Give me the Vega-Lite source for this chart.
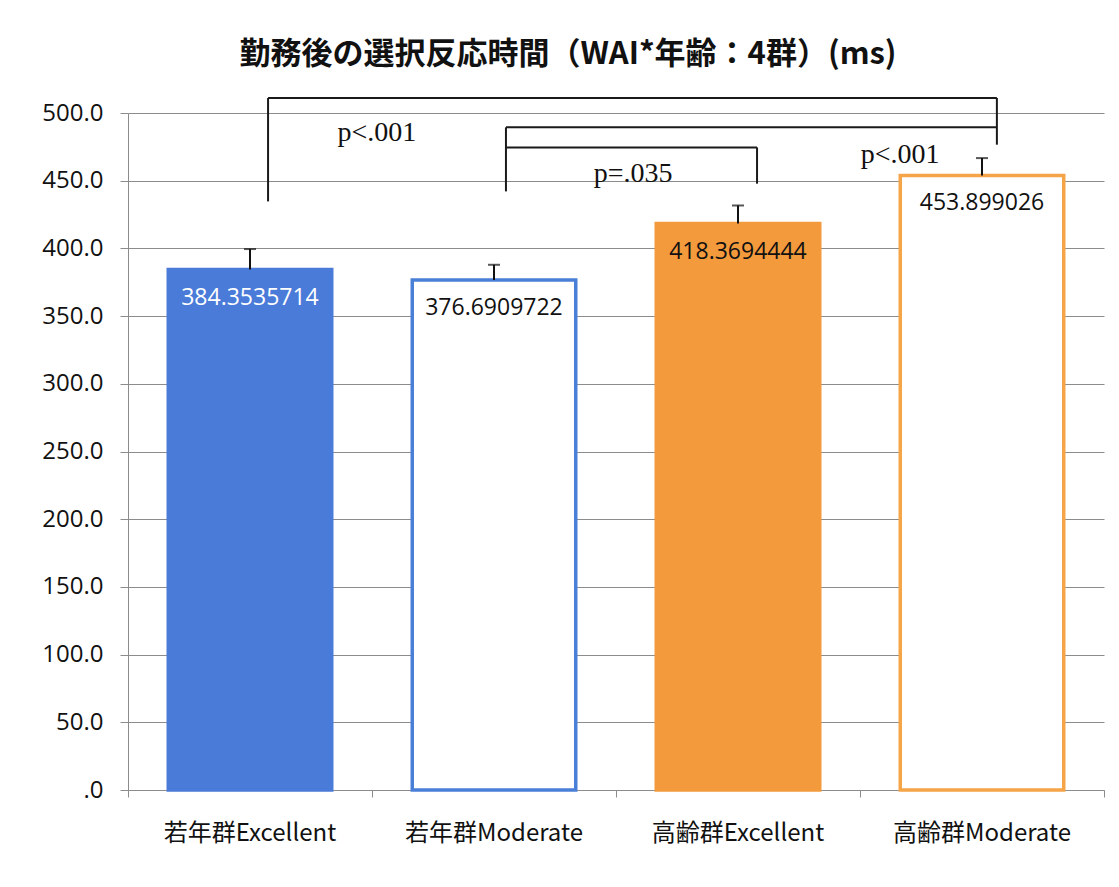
{
  "$schema": "https://vega.github.io/schema/vega-lite/v6.json",
  "width": 976,
  "height": 677,
  "autosize": {"type": "none"},
  "padding": {"left": 128, "top": 113, "right": 15, "bottom": 97},
  "background": "white",
  "config": {"view": {"stroke": null}},
  "title": {
    "text": "勤務後の選択反応時間（WAI*年齢：4群）(ms)",
    "font": "Noto Sans CJK JP",
    "fontSize": 31,
    "fontWeight": "bold",
    "color": "#111111",
    "offset": 26,
    "dx": -48,
    "anchor": "middle"
  },
  "datasets": {
    "bars": [
      {"grp": "若年群Excellent", "mean": 384.3535714, "err_hi": 399.5},
      {"grp": "若年群Moderate", "mean": 376.6909722, "err_hi": 387.9},
      {"grp": "高齢群Excellent", "mean": 418.3694444, "err_hi": 431.7},
      {"grp": "高齢群Moderate", "mean": 453.899026, "err_hi": 466.7}
    ],
    "brackets": [
      {"x1": 0.574, "x2": 3.561, "y1": 511.1, "y2": 511.1},
      {"x1": 0.574, "x2": 0.574, "y1": 434.7, "y2": 511.1},
      {"x1": 3.561, "x2": 3.561, "y1": 476.6, "y2": 511.1},
      {"x1": 1.549, "x2": 3.561, "y1": 489.4, "y2": 489.4},
      {"x1": 1.549, "x2": 1.549, "y1": 442.1, "y2": 489.4},
      {"x1": 1.549, "x2": 2.578, "y1": 474.6, "y2": 474.6},
      {"x1": 2.578, "x2": 2.578, "y1": 447.8, "y2": 474.6}
    ],
    "pvals": [
      {"x": 1.02, "y": 485.4, "label": "p<.001"},
      {"x": 2.07, "y": 455.1, "label": "p=.035"},
      {"x": 3.164, "y": 469.1, "label": "p<.001"}
    ]
  },
  "layer": [
    {
      "data": {"name": "bars"},
      "encoding": {
        "x": {
          "field": "grp",
          "type": "nominal",
          "sort": null,
          "scale": {"paddingInner": 0.33, "paddingOuter": 0.165},
          "axis": {
            "orient": "bottom",
            "title": null,
            "ticks": false,
            "domain": false,
            "labelAngle": 0,
            "labelFont": "Noto Sans CJK JP",
            "labelFontSize": 24,
            "labelColor": "#111111",
            "labelPadding": 31,
            "labelLimit": 400
          }
        },
        "y": {
          "field": "mean",
          "type": "quantitative",
          "scale": {"domain": [0, 500], "nice": false},
          "axis": {
            "title": null,
            "values": [0, 50, 100, 150, 200, 250, 300, 350, 400, 450, 500],
            "labelExpr": "datum.value == 0 ? '.0' : format(datum.value, '.1f')",
            "grid": true,
            "gridColor": "#8c8c8c",
            "gridWidth": 1,
            "domainColor": "#8c8c8c",
            "tickColor": "#8c8c8c",
            "tickSize": 8,
            "labelPadding": 17,
            "labelFont": "Open Sans",
            "labelFontSize": 24,
            "labelColor": "#111111"
          }
        }
      },
      "layer": [
        {
          "mark": {"type": "bar", "strokeWidth": 3.5},
          "encoding": {
            "fill": {
              "field": "grp",
              "type": "nominal",
              "sort": null,
              "scale": {"range": ["#4a7bd8", "#ffffff", "#f39a3c", "#ffffff"]},
              "legend": null
            },
            "stroke": {
              "field": "grp",
              "type": "nominal",
              "sort": null,
              "scale": {"range": ["#4a7bd8", "#4a7fd8", "#f39a3c", "#f5a447"]},
              "legend": null
            }
          }
        },
        {
          "mark": {"type": "rule", "color": "#111111", "strokeWidth": 2},
          "encoding": {
            "y2": {"field": "err_hi"}
          }
        },
        {
          "mark": {"type": "tick", "color": "#111111", "size": 12, "thickness": 2},
          "encoding": {
            "y": {"field": "err_hi", "type": "quantitative"}
          }
        },
        {
          "mark": {"type": "text", "font": "Open Sans", "fontSize": 23, "baseline": "middle", "dy": 28},
          "encoding": {
            "text": {"field": "mean", "type": "nominal"},
            "color": {
              "condition": {"test": "datum.grp == '若年群Excellent'", "value": "#ffffff"},
              "value": "#111111"
            }
          }
        }
      ]
    },
    {
      "layer": [
        {
          "data": {"name": "brackets"},
          "mark": {"type": "rule", "color": "#1a1a1a", "strokeWidth": 2},
          "encoding": {
            "x": {
              "field": "x1",
              "type": "quantitative",
              "scale": {"domain": [0, 4], "nice": false, "zero": false},
              "axis": {
                "orient": "bottom",
                "title": null,
                "values": [0, 1, 2, 3, 4],
                "labels": false,
                "grid": false,
                "ticks": true,
                "tickSize": 7,
                "tickColor": "#8c8c8c",
                "domain": true,
                "domainColor": "#8c8c8c"
              }
            },
            "x2": {"field": "x2"},
            "y": {"field": "y1", "type": "quantitative"},
            "y2": {"field": "y2"}
          }
        },
        {
          "data": {"name": "pvals"},
          "mark": {"type": "text", "font": "Liberation Serif", "fontSize": 28, "baseline": "middle", "color": "#111111"},
          "encoding": {
            "x": {"field": "x", "type": "quantitative"},
            "y": {"field": "y", "type": "quantitative"},
            "text": {"field": "label", "type": "nominal"}
          }
        }
      ]
    }
  ],
  "resolve": {"scale": {"x": "independent"}, "axis": {"x": "independent"}}
}
